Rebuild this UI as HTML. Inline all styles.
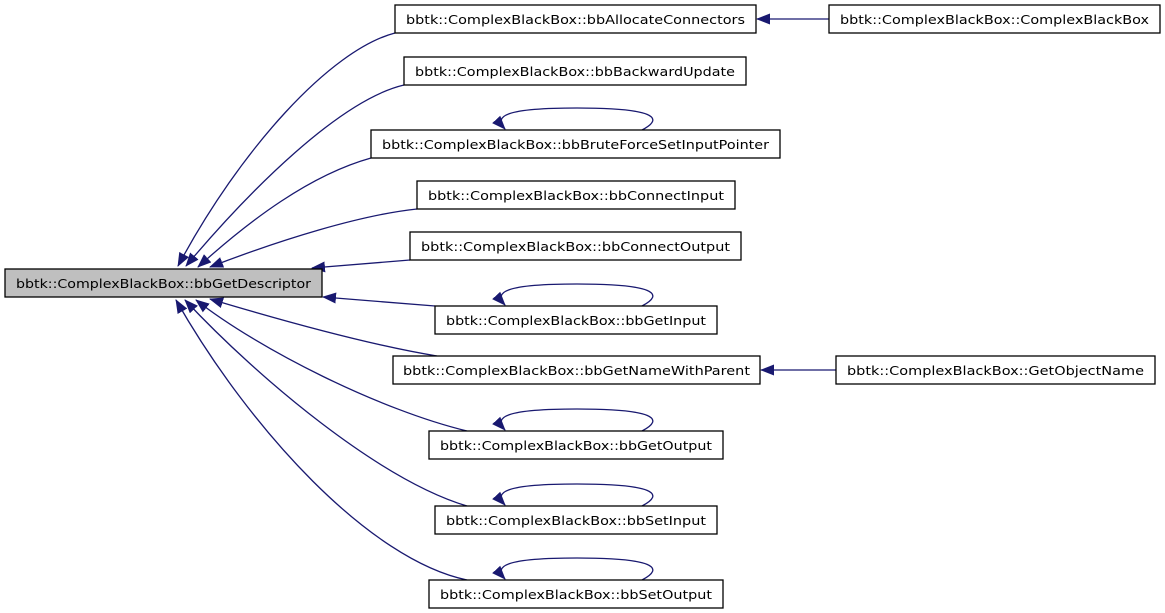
<!DOCTYPE html>
<html><head><meta charset="utf-8"><style>
html,body{margin:0;padding:0;background:#fff;}
svg{display:block;}
text{font-family:"DejaVu Sans","Liberation Sans",sans-serif;font-size:12.5px;fill:#000;}
</style></head><body>
<svg width="1165" height="613" viewBox="0 0 1165 613" xmlns="http://www.w3.org/2000/svg">
<defs>
<marker id="a" markerWidth="14" markerHeight="11" refX="13" refY="5.5" orient="auto" markerUnits="userSpaceOnUse">
<path d="M0,0 L14,5.5 L0,11 Z" fill="#191970"/>
</marker>
</defs>
<g fill="none" stroke="#191970" stroke-width="1.3">
<path d="M395,33 C330,50 240,150 178,266" marker-end="url(#a)"/>
<path d="M404,85 C340,100 250,190 186,266" marker-end="url(#a)"/>
<path d="M371,158 C310,175 250,220 198,267" marker-end="url(#a)"/>
<path d="M417,209 C360,215 280,240 210,267" marker-end="url(#a)"/>
<path d="M410,260 L312,268" marker-end="url(#a)"/>
<path d="M435,306 L323,297" marker-end="url(#a)"/>
<path d="M437,356 C370,345 280,320 210,299" marker-end="url(#a)"/>
<path d="M467,431 C380,410 260,350 196,300" marker-end="url(#a)"/>
<path d="M467,506 C380,480 260,380 185,300" marker-end="url(#a)"/>
<path d="M467,580 C370,560 250,430 176,300" marker-end="url(#a)"/>
<path d="M829,19 L757,19" marker-end="url(#a)"/>
<path d="M836,370 L761,370" marker-end="url(#a)"/>
<path d="M642,130 C665,118 655,108 577,108 C505,108 493,116 505,129" marker-end="url(#a)"/>
<path d="M642,306 C665,294 655,284 577,284 C505,284 493,292 505,305" marker-end="url(#a)"/>
<path d="M642,431 C665,419 655,409 577,409 C505,409 493,417 505,430" marker-end="url(#a)"/>
<path d="M642,506 C665,494 655,484 577,484 C505,484 493,492 505,505" marker-end="url(#a)"/>
<path d="M642,580 C665,568 655,558 577,558 C505,558 493,566 505,579" marker-end="url(#a)"/>
</g>
<g stroke="#000" stroke-width="1.3" fill="#fff">
<rect x="5" y="269" width="317" height="28" fill="#bfbfbf"/>
<rect x="395" y="5" width="361" height="28"/>
<rect x="829" y="5" width="331" height="28"/>
<rect x="404" y="57" width="342" height="28"/>
<rect x="371" y="130" width="409" height="28"/>
<rect x="417" y="181" width="318" height="28"/>
<rect x="410" y="232" width="331" height="28"/>
<rect x="435" y="306" width="282" height="28"/>
<rect x="393" y="356" width="367" height="28"/>
<rect x="836" y="356" width="319" height="28"/>
<rect x="429" y="431" width="294" height="28"/>
<rect x="435" y="506" width="282" height="28"/>
<rect x="429" y="580" width="294" height="28"/>
</g>
<g>
<text x="16" y="288" textLength="295" lengthAdjust="spacingAndGlyphs">bbtk::ComplexBlackBox::bbGetDescriptor</text>
<text x="406" y="24" textLength="339" lengthAdjust="spacingAndGlyphs">bbtk::ComplexBlackBox::bbAllocateConnectors</text>
<text x="840" y="24" textLength="309" lengthAdjust="spacingAndGlyphs">bbtk::ComplexBlackBox::ComplexBlackBox</text>
<text x="415" y="76" textLength="320" lengthAdjust="spacingAndGlyphs">bbtk::ComplexBlackBox::bbBackwardUpdate</text>
<text x="382" y="149" textLength="387" lengthAdjust="spacingAndGlyphs">bbtk::ComplexBlackBox::bbBruteForceSetInputPointer</text>
<text x="428" y="200" textLength="296" lengthAdjust="spacingAndGlyphs">bbtk::ComplexBlackBox::bbConnectInput</text>
<text x="421" y="251" textLength="309" lengthAdjust="spacingAndGlyphs">bbtk::ComplexBlackBox::bbConnectOutput</text>
<text x="446" y="325" textLength="260" lengthAdjust="spacingAndGlyphs">bbtk::ComplexBlackBox::bbGetInput</text>
<text x="403" y="375" textLength="347" lengthAdjust="spacingAndGlyphs">bbtk::ComplexBlackBox::bbGetNameWithParent</text>
<text x="847" y="375" textLength="297" lengthAdjust="spacingAndGlyphs">bbtk::ComplexBlackBox::GetObjectName</text>
<text x="440" y="450" textLength="272" lengthAdjust="spacingAndGlyphs">bbtk::ComplexBlackBox::bbGetOutput</text>
<text x="446" y="525" textLength="260" lengthAdjust="spacingAndGlyphs">bbtk::ComplexBlackBox::bbSetInput</text>
<text x="440" y="599" textLength="272" lengthAdjust="spacingAndGlyphs">bbtk::ComplexBlackBox::bbSetOutput</text>
</g>
</svg>
</body></html>
